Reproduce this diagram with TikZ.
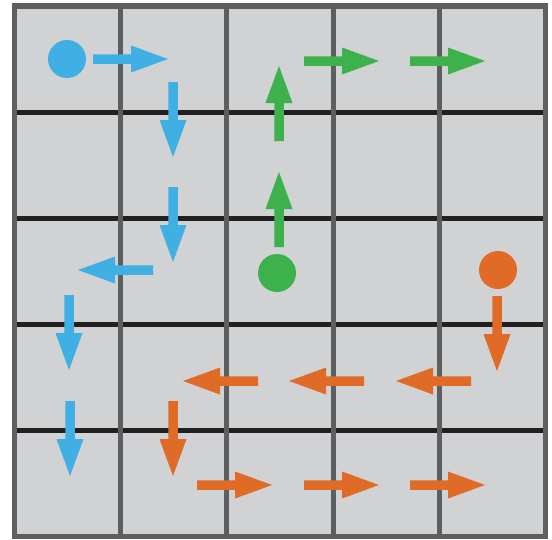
\documentclass[tikz,border=0pt]{standalone}
\definecolor{cellgray}{HTML}{D1D2D4}
\definecolor{linegray}{HTML}{5D5E60}
\definecolor{lineblack}{HTML}{231F20}
\definecolor{pblue}{HTML}{40B0E4}
\definecolor{pgreen}{HTML}{3DB14B}
\definecolor{porange}{HTML}{E06B26}
\tikzset{
  mvarrow/.pic={\fill (0,-4.75) -- (38,-4.75) -- (38,-13.5) -- (75,0) -- (38,13.5) -- (38,4.75) -- (0,4.75) -- cycle;},
  dot/.style={circle, minimum size=38pt, inner sep=0pt, draw=none},
}
\begin{document}
\begin{tikzpicture}[x=1pt,y=-1pt]
\useasboundingbox (0,0) rectangle (552,539);
% board
\fill[cellgray] (14.5,6) rectangle (545.5,536.5);
\foreach \k in {1,2,3,4}
  \draw[lineblack, line width=4.8pt] (14.5,{6+106.1*\k}) -- (545.5,{6+106.1*\k});
\foreach \k in {1,2,3,4}
  \draw[linegray, line width=5pt] ({14.5+106.2*\k},6) -- ({14.5+106.2*\k},536.5);
\draw[linegray, line width=5.5pt] (14.5,6) rectangle (545.5,536.5);
% blue path
\node[dot, fill=pblue] (bstart) at (67,59) {};
\pic[pblue] at (93,59) {mvarrow};
\pic[pblue, rotate=-90] at (173,82) {mvarrow};
\pic[pblue, rotate=-90] at (173,187) {mvarrow};
\pic[pblue, rotate=180] at (153,270) {mvarrow};
\pic[pblue, rotate=-90] at (69,295) {mvarrow};
\pic[pblue, rotate=-90] at (70,401) {mvarrow};
% green path
\node[dot, fill=pgreen] (gstart) at (277,273) {};
\pic[pgreen, rotate=90] at (279,247) {mvarrow};
\pic[pgreen, rotate=90] at (279,141) {mvarrow};
\pic[pgreen] at (304,61) {mvarrow};
\pic[pgreen] at (410,61) {mvarrow};
% orange path
\node[dot, fill=porange] (ostart) at (498,270) {};
\pic[porange, rotate=-90] at (497,296) {mvarrow};
\pic[porange, rotate=180] at (471,381) {mvarrow};
\pic[porange, rotate=180] at (364,381) {mvarrow};
\pic[porange, rotate=180] at (258,381) {mvarrow};
\pic[porange, rotate=-90] at (173,401) {mvarrow};
\pic[porange] at (197,485) {mvarrow};
\pic[porange] at (304,485) {mvarrow};
\pic[porange] at (410,485) {mvarrow};
\end{tikzpicture}
\end{document}
